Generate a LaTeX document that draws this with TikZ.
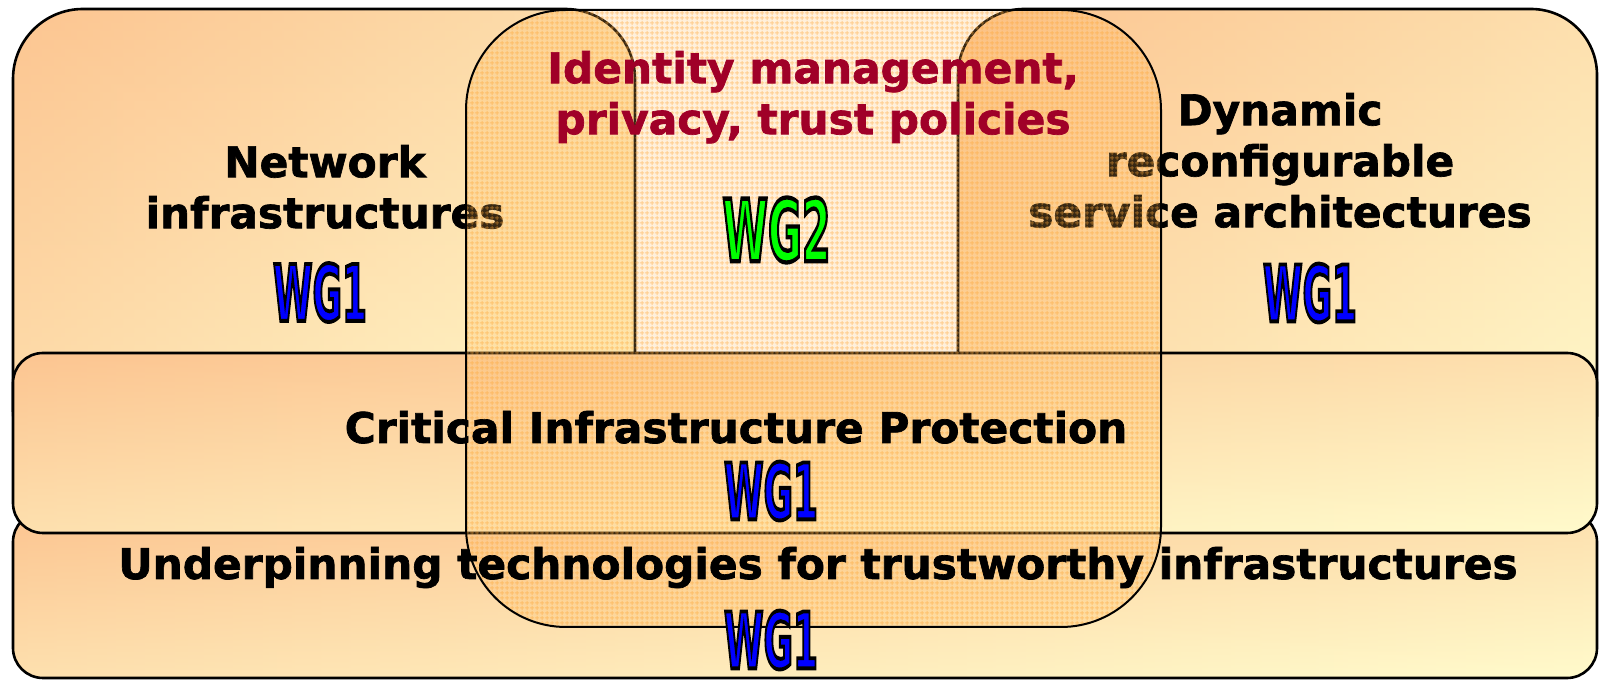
\documentclass[tikz,border=0pt]{standalone}
\usepackage{fontspec}
\setmainfont{DejaVu Sans}[BoldFeatures={FakeBold=1.6}]
\newfontfamily\wgfont{DejaVu Sans Bold}[FakeBold=5]
\usetikzlibrary{patterns}
\definecolor{boxdark}{RGB}{252,197,145}
\definecolor{boxlight}{RGB}{255,251,204}
\definecolor{idred}{RGB}{160,0,40}
\definecolor{wgfill}{RGB}{255,185,90}
\definecolor{wgpat}{RGB}{255,165,50}
\pgfdeclarepatternformonly{wggrid}{\pgfpointorigin}{\pgfqpoint{5pt}{5pt}}{\pgfqpoint{5pt}{5pt}}{%
  \pgfpathrectangle{\pgfqpoint{2pt}{0pt}}{\pgfqpoint{1pt}{5pt}}%
  \pgfpathrectangle{\pgfqpoint{0pt}{2pt}}{\pgfqpoint{5pt}{1pt}}%
  \pgfusepath{fill}}
% outlined label: fill colour #2 (rgb array), black stroke from the emboldening
\newcommand{\wglabel}[3]{\scalebox{#3}[1]{\special{pdf:bcolor [#2] [0 0 0]}#1\special{pdf:ecolor}}}
% box with a corner-to-corner gradient: half horizontal ramp + half vertical ramp
\newcommand{\gradbox}[3]{%
  \shade[left color=boxdark, right color=boxlight, rounded corners=#1] #2 rectangle #3;
  \shade[top color=boxdark, bottom color=boxlight, fill opacity=0.5, rounded corners=#1] #2 rectangle #3;
  \draw[boxline, rounded corners=#1] #2 rectangle #3;}
\tikzset{
  boxline/.style={draw=black, line width=2.6pt},
  lbl/.style={font=\fontsize{42.3}{51}\selectfont\bfseries, inner sep=0pt, align=center},
  wg/.style={inner sep=0pt, font=\fontsize{78}{78}\selectfont\wgfont},
  wgshape/.style={rounded corners=100pt},
}
\begin{document}
\begin{tikzpicture}[x=1pt,y=1pt]
\useasboundingbox (0,0) rectangle (1599,680);
% top boxes
\gradbox{70pt}{(13,200)}{(635,671)}
\gradbox{66pt}{(958,200)}{(1597,671)}
% bottom box
\gradbox{30pt}{(13,2)}{(1597,168)}
% middle box
\gradbox{30pt}{(13,147)}{(1597,327)}
% texts of the top boxes
\node[lbl, anchor=north] (net) at (325,543) {\rule{0pt}{40pt}Network\\infrastructures};
\node[lbl, anchor=north] (dyn) at (1280,595) {\rule{0pt}{40pt}Dynamic\\reconfigurable\\service architectures};
\node[wg] (wgnet) at (320,387.5) {\wglabel{WG1}{0 0 1}{0.46}};
\node[wg] (wgdyn) at (1310,387) {\wglabel{WG1}{0 0 1}{0.46}};
% WG2 overlay
\fill[wgshape, wgfill, fill opacity=0.22] (466,53) rectangle (1161,670);
\fill[wgshape, pattern=wggrid, pattern color=wgpat, fill opacity=0.45] (466,53) rectangle (1161,670);
\draw[wgshape, line width=2pt] (466,53) rectangle (1161,670);
% remaining texts
\node[lbl, anchor=north, text=idred] (idm) at (813,637) {\rule{0pt}{40pt}Identity management,\\privacy, trust policies};
\node[wg, font=\fontsize{86}{86}\selectfont\wgfont] (wgtwo) at (776.5,450) {\wglabel{WG2}{0 1 0}{0.48}};
\node[lbl, anchor=base] (cip) at (736,237) {Critical Infrastructure Protection};
\node[wg] (wgcip) at (771,189) {\wglabel{WG1}{0 0 1}{0.46}};
\node[lbl, anchor=base] (und) at (818,101) {Underpinning technologies for trustworthy infrastructures};
\node[wg] (wgund) at (771,40) {\wglabel{WG1}{0 0 1}{0.46}};
\end{tikzpicture}
\end{document}
